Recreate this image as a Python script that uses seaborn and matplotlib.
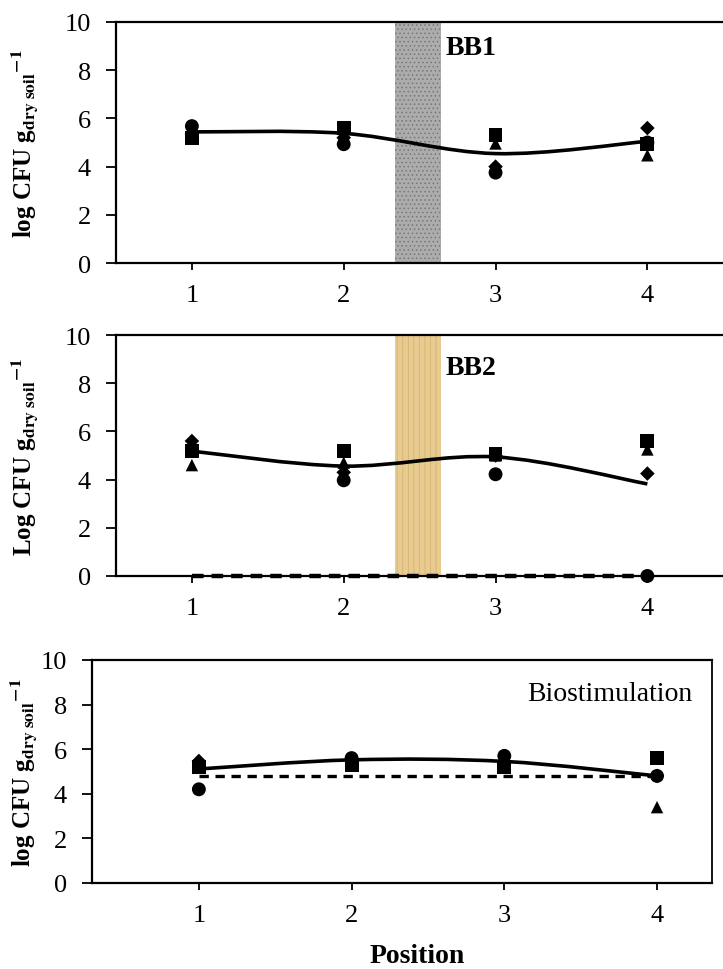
import matplotlib
matplotlib.use("Agg")
from matplotlib import pyplot as plt
from matplotlib.path import Path
from matplotlib.patches import PathPatch
import pandas as pd
import seaborn as sns
import numpy as np

# positions along the transect
positions = [1, 2, 3, 4]

# BB1 panel
bb1_circle = [5.68, 4.93, 3.75, 5.0]
bb1_square = [5.17, 5.6, 5.3, 4.95]
bb1_triangle = [5.2, 5.4, 4.96, 4.47]
bb1_diamond = [5.35, 5.2, 4.0, 5.6]
bb1_curve = [5.44, 5.38, 4.54, 5.05]

# BB2 panel
bb2_circle = [5.2, 3.97, 4.22, 0.0]
bb2_square = [5.2, 5.2, 5.06, 5.6]
bb2_triangle = [4.6, 4.7, 5.0, 5.25]
bb2_diamond = [5.6, 4.3, 5.0, 4.25]
bb2_curve = [5.18, 4.56, 4.94, 3.82]
bb2_dashed = [0.0, 0.0, 0.0, 0.0]

# Biostimulation panel
bio_circle = [4.2, 5.6, 5.7, 4.8]
bio_square = [5.2, 5.27, 5.2, 5.6]
bio_triangle = [5.3, 5.4, 5.3, 3.4]
bio_diamond = [5.47, 5.5, 5.4, 4.8]
bio_curve = [5.11, 5.52, 5.45, 4.8]
bio_dashed = [4.8, 4.8, 4.8, 4.8]

y_ticks = [0, 2, 4, 6, 8, 10]


def smooth_curve(ax, xs, ys, lw=2.6):
    """ Draws an Excel-like smoothed line (Catmull-Rom as cubic Bezier). """
    pts = np.column_stack([xs, ys]).astype(float)
    n = len(pts)
    verts = [tuple(pts[0])]
    codes = [Path.MOVETO]
    for i in range(n - 1):
        p0 = pts[max(i - 1, 0)]
        p1 = pts[i]
        p2 = pts[i + 1]
        p3 = pts[min(i + 2, n - 1)]
        c1 = p1 + (p2 - p0) / 6
        c2 = p2 - (p3 - p1) / 6
        verts += [tuple(c1), tuple(c2), tuple(p2)]
        codes += [Path.CURVE4] * 3
    ax.add_patch(PathPatch(Path(verts, codes), fill=False, lw=lw,
                           edgecolor="black", zorder=4))


def draw_points(ax, circle, square, triangle, diamond):
    df = pd.DataFrame({
        "Position": positions * 4,
        "value": circle + square + triangle + diamond,
        "kind": ["circle"] * 4 + ["square"] * 4 + ["triangle"] * 4 + ["diamond"] * 4,
    })
    sizes = {"circle": 100, "square": 100, "triangle": 80, "diamond": 55}
    markers = {"circle": "o", "square": "s", "triangle": "^", "diamond": "D"}
    for kind in ["diamond", "triangle", "circle", "square"]:
        sub = df[df["kind"] == kind]
        sns.scatterplot(data=sub, x="Position", y="value", ax=ax,
                        marker=markers[kind], s=sizes[kind], color="black",
                        edgecolor="none", zorder=5, legend=False, clip_on=False)


def style_axis(ax, ylabel, xlim, top_line=True, box=False):
    ax.set_xlim(*xlim)
    ax.set_ylim(0, 10)
    ax.set_xticks(positions)
    ax.set_yticks(y_ticks)
    ax.tick_params(axis="y", left=True, direction="out", length=7, width=1.3,
                   labelsize=19, pad=11, colors="black")
    ax.tick_params(axis="x", bottom=True, direction="out", length=5, width=1.3,
                   labelsize=19, pad=10, colors="black")
    for side in ["left", "bottom"]:
        ax.spines[side].set_linewidth(1.6)
        ax.spines[side].set_color("black")
    ax.spines["top"].set_visible(top_line or box)
    ax.spines["top"].set_linewidth(1.6)
    ax.spines["top"].set_color("black")
    ax.spines["right"].set_visible(box)
    ax.spines["right"].set_linewidth(1.3)
    ax.spines["right"].set_color("black")
    ax.set_xlabel("")
    ax.set_ylabel(ylabel, fontsize=18, fontweight="bold", color="black")


sns.set_style("white")
plt.rcParams["font.family"] = ["Liberation Serif", "DejaVu Serif"]
plt.rcParams["mathtext.fontset"] = "stix"
plt.rcParams["hatch.linewidth"] = 0.6
plt.rcParams["text.color"] = "black"

fig = plt.figure(figsize=(7.23, 9.70), dpi=100)
ax1 = fig.add_axes([0.1604, 0.7278, 0.84, 0.2485])
ax2 = fig.add_axes([0.1604, 0.4052, 0.84, 0.2484])
ax3 = fig.add_axes([0.1272, 0.0887, 0.8576, 0.2299])

lbl_lower = r"log CFU g$_{\mathbf{dry\ soil}}$$^{\mathbf{-1}}$"
lbl_upper = r"Log CFU g$_{\mathbf{dry\ soil}}$$^{\mathbf{-1}}$"

# Panel BB1
ax1.axvspan(2.34, 2.64, facecolor="#acacac", hatch="....", edgecolor="#777777",
            lw=0, zorder=1)
draw_points(ax1, bb1_circle, bb1_square, bb1_triangle, bb1_diamond)
smooth_curve(ax1, positions, bb1_curve)
style_axis(ax1, lbl_lower, (0.5, 4.5))
ax1.text(2.67, 8.95, "BB1", fontsize=20, fontweight="bold", va="center", ha="left")
ax1.yaxis.set_label_coords(-0.125, 0.5)

# Panel BB2
ax2.axvspan(2.34, 2.64, facecolor="#e8cb90", hatch="|||", edgecolor="#d6b470",
            lw=0, zorder=1)
draw_points(ax2, bb2_circle, bb2_square, bb2_triangle, bb2_diamond)
smooth_curve(ax2, positions, bb2_curve)
sns.lineplot(x=positions, y=bb2_dashed, ax=ax2, color="black", lw=3.2,
             dashes=(2.6, 1.8), zorder=6, clip_on=False)
style_axis(ax2, lbl_upper, (0.5, 4.5))
ax2.text(2.67, 8.65, "BB2", fontsize=20, fontweight="bold", va="center", ha="left")
ax2.yaxis.set_label_coords(-0.125, 0.5)

# Panel Biostimulation
draw_points(ax3, bio_circle, bio_square, bio_triangle, bio_diamond)
smooth_curve(ax3, positions, bio_curve)
sns.lineplot(x=positions, y=bio_dashed, ax=ax3, color="black", lw=2.4,
             dashes=(2.8, 2.0), zorder=3)
style_axis(ax3, lbl_lower, (0.3, 4.36), box=True)
ax3.text(4.23, 8.5, "Biostimulation", fontsize=20, va="center", ha="right")
ax3.set_xlabel("Position", fontsize=20, fontweight="bold", labelpad=14,
               color="black")
ax3.xaxis.set_label_coords(0.525, -0.27)
ax3.yaxis.set_label_coords(-0.085, 0.5)

plt.savefig("out.png", dpi=100)
